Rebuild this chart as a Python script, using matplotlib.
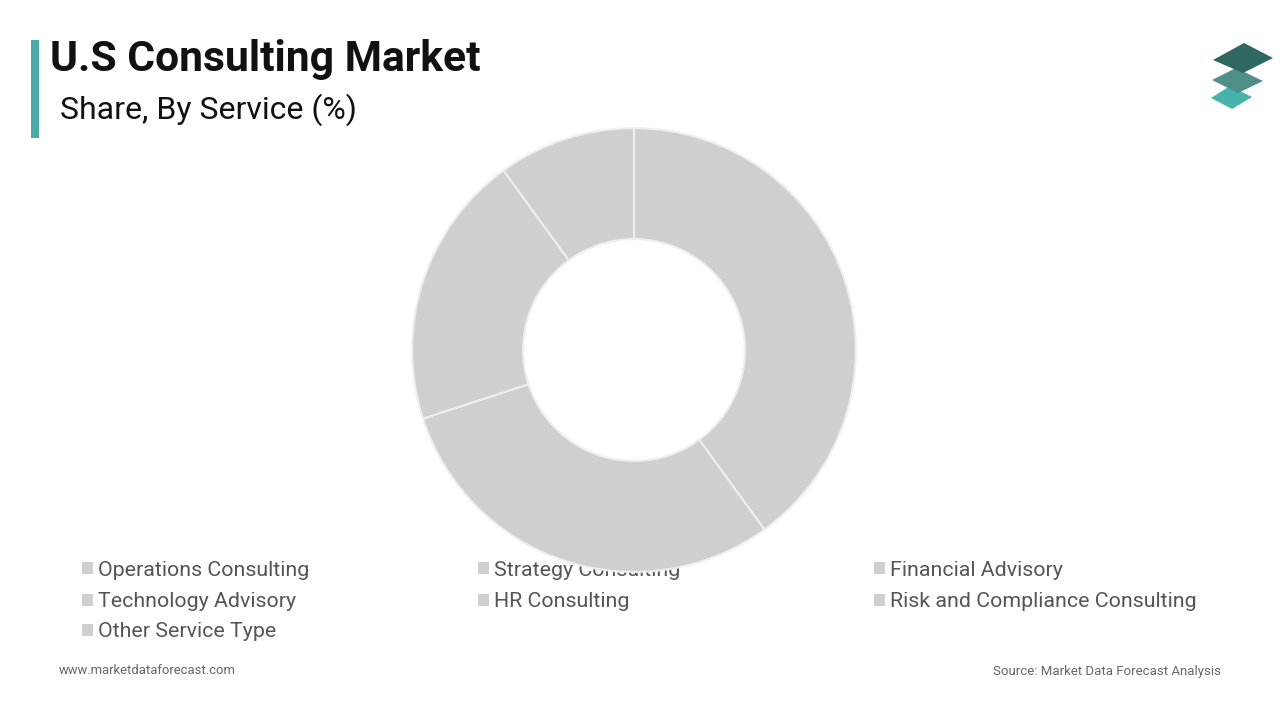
import matplotlib
matplotlib.use("Agg")
import matplotlib.pyplot as plt
from matplotlib.patches import Rectangle, Polygon

plt.rcParams['font.family'] = ['Roboto', 'DejaVu Sans']

# Data
categories = ["Operations Consulting", "Strategy Consulting", "Financial Advisory",
              "Technology Advisory", "HR Consulting", "Risk and Compliance Consulting",
              "Other Service Type"]
shares = [40, 30, 20, 10, 0, 0, 0]

title = "U.S Consulting Market"
subtitle = "Share, By Service (%)"
footer_left = "www.marketdataforecast.com"
footer_right = "Source: Market Data Forecast Analysis"

W, H = 1280, 720
fig = plt.figure(figsize=(12.8, 7.2), dpi=100)
fig.patch.set_facecolor("white")

# overlay axes in pixel coords
ov = fig.add_axes([0, 0, 1, 1])
ov.set_xlim(0, W)
ov.set_ylim(H, 0)
ov.axis("off")

# title bar
ov.add_patch(Rectangle((31, 40), 8, 98, color="#4aaba6", lw=0))
ov.text(50, 59, title, fontsize=30.7, fontweight="bold", color="#111111",
        va="center", ha="left")
ov.text(60, 110, subtitle, fontsize=23, color="#111111", va="center", ha="left")

# logo
ov.add_patch(Polygon([(1211, 98), (1230, 86), (1252, 97), (1232, 109)], closed=True,
                     color="#47b3ab", lw=0))
ov.add_patch(Polygon([(1212, 80), (1236, 68), (1263, 81), (1238, 93)], closed=True,
                     color="#4f8f88", lw=0))
ov.add_patch(Polygon([(1213, 60), (1244, 43), (1273, 58), (1243, 73)], closed=True,
                     color="#2f6860", lw=0))

# legend (manual, 3 columns)
col_x = [82, 478, 874]
row_y = [570, 601.5, 631.5]
for i, cat in enumerate(categories):
    r, c = divmod(i, 3)
    x, y = col_x[c], row_y[r]
    ov.add_patch(Rectangle((x, y - 8), 11, 12, color="#cfcfcf", lw=0))
    ov.text(x + 16, y, cat, fontsize=15.4, color="#555555", va="center", ha="left")

# footer
ov.text(59, 671, footer_left, fontsize=9.4, color="#666666", va="center", ha="left")
ov.text(1221, 671, footer_right, fontsize=9.5, color="#666666", va="center", ha="right")

# donut
cx, cy, R = 634, 350, 223
ax = fig.add_axes([(cx - R) / W, (H - cy - R) / H, 2 * R / W, 2 * R / H])
vals = [v for v in shares if v > 0]
ax.pie(vals, startangle=90, counterclock=False, radius=1,
       colors=["#d0cfd0"] * len(vals),
       wedgeprops=dict(width=0.5, edgecolor="#eeeeee", linewidth=1.5))
ax.set_xlim(-1.005, 1.005)
ax.set_ylim(-1.005, 1.005)
ax.set_aspect("equal")
ax.axis("off")

fig.savefig("out.png", dpi=100, facecolor="white")
